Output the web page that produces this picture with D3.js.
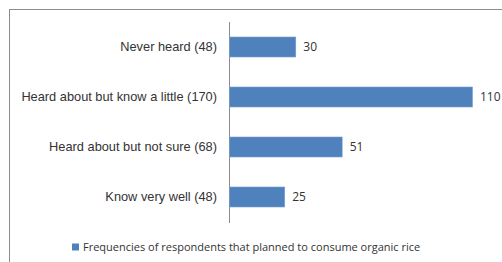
<!DOCTYPE html>
<html>
<head>
<meta charset="utf-8">
<script src="https://cdn.jsdelivr.net/npm/d3@7"></script>
<style>
  html, body { margin: 0; padding: 0; background: #fff; }
  svg { display: block; font-family: 'Open Sans', sans-serif; }
</style>
</head>
<body>
<div id="chart"></div>
<script>
const categories = [
  'Never heard (48)',
  'Heard about but know a little (170)',
  'Heard about but not sure (68)',
  'Know very well (48)',
]
const values = [30, 110, 51, 25]
const seriesName = 'Frequencies of respondents that planned to consume organic rice'

const SIZE = Object.freeze({ WIDTH: 502, HEIGHT: 262 })
const PLOT = Object.freeze({ LEFT: 229, TOP: 22, BOTTOM: 222 })
const BAR_COLOR = '#4f81bd'

const svg = d3.select('#chart')
  .append('svg')
  .attr('width', SIZE.WIDTH)
  .attr('height', SIZE.HEIGHT)

// chart area frame (runs off the right and bottom edge)
svg.append('rect')
  .attr('x', 9.5)
  .attr('y', 9.5)
  .attr('width', 520)
  .attr('height', 280)
  .attr('fill', 'none')
  .attr('stroke', '#8c8c8c')
  .attr('stroke-width', 1)

const xScale = d3.scaleLinear()
  .domain([0, 110])
  .range([PLOT.LEFT, PLOT.LEFT + 243])

const yScale = d3.scaleBand()
  .domain(categories)
  .range([PLOT.TOP, PLOT.BOTTOM])
  .paddingInner(0.6)
  .paddingOuter(0.3)

const yAxis = d3.axisLeft(yScale).tickSize(0).tickPadding(12)

const axisG = svg.append('g')
  .attr('transform', `translate(${PLOT.LEFT}, 0)`)
  .call(yAxis)

axisG.select('.domain')
  .attr('stroke', '#8c8c8c')
  .attr('d', `M0.5,${PLOT.TOP}V${PLOT.BOTTOM + 1}`)

axisG.selectAll('.tick text')
  .style('font-size', '12.8px')
  .attr('fill', '#333')

svg.selectAll('rect.bar')
  .data(values)
  .enter()
  .append('rect')
  .attr('class', 'bar')
  .attr('x', xScale(0) + 0.5)
  .attr('y', (d, i) => yScale(categories[i]))
  .attr('width', d => xScale(d) - xScale(0))
  .attr('height', yScale.bandwidth())
  .attr('fill', BAR_COLOR)
  .attr('stroke', '#7a9fcf')
  .attr('stroke-width', 0.6)

svg.selectAll('text.value')
  .data(values)
  .enter()
  .append('text')
  .attr('class', 'value')
  .attr('x', d => xScale(d) + 8)
  .attr('y', (d, i) => yScale(categories[i]) + yScale.bandwidth() / 2)
  .attr('dy', '0.35em')
  .style('font-size', '12px')
  .attr('fill', '#333')
  .text(d => d)

// legend
const legend = svg.append('g')
  .attr('transform', 'translate(72, 247)')

legend.append('rect')
  .attr('x', 0)
  .attr('y', -3.5)
  .attr('width', 7)
  .attr('height', 7)
  .attr('fill', BAR_COLOR)

legend.append('text')
  .attr('x', 11)
  .attr('y', 0)
  .attr('dy', '0.35em')
  .style('font-size', '11px')
  .attr('fill', '#333')
  .text(seriesName)
</script>
</body>
</html>
